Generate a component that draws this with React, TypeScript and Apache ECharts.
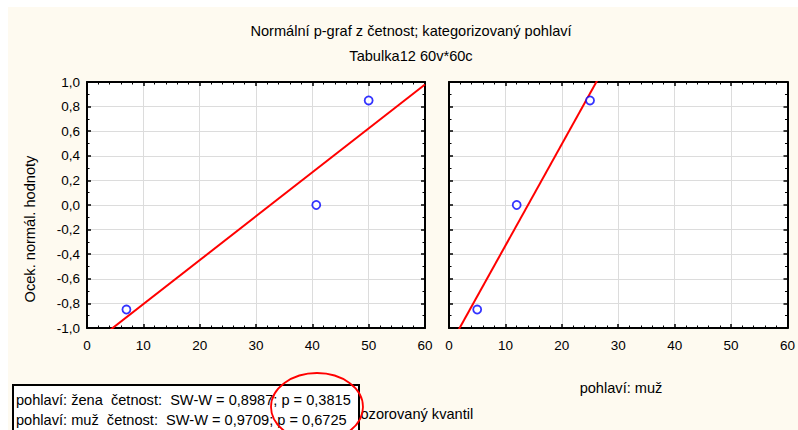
import React, { useEffect, useRef } from "react";
import * as echarts from "echarts";

const titleText = "Normální p-graf z četnost; kategorizovaný pohlaví";
const subtitleText = "Tabulka12 60v*60c";
const yAxisTitle = "Ocek. normál. hodnoty";
const xAxisTitle = "Pozorovaný kvantil";
const groupLabels = ["pohlaví: žena", "pohlaví: muž"];
const zenaObserved = [7, 40.7, 50];
const muzObserved = [5, 12, 25];
const expectedNormal = [-0.85, 0.0, 0.85];
const legendLines = [
  "pohlaví: žena  četnost:  SW-W = 0,8987; p = 0,3815",
  "pohlaví: muž  četnost:  SW-W = 0,9709; p = 0,6725",
];
const xMin = 0;
const xMax = 60;
const yMin = -1;
const yMax = 1;

function fitLine(xs: number[], ys: number[]): number[][] {
  const n = xs.length;
  const mx = xs.reduce((a, b) => a + b, 0) / n;
  const my = ys.reduce((a, b) => a + b, 0) / n;
  let sxy = 0;
  let sxx = 0;
  for (let i = 0; i < n; i++) {
    sxy += (xs[i] - mx) * (ys[i] - my);
    sxx += (xs[i] - mx) * (xs[i] - mx);
  }
  const b = sxy / sxx;
  const a = my - b * mx;
  return [
    [xMin, a + b * xMin],
    [xMax, a + b * xMax],
  ];
}

const FONT = "Liberation Sans";
const BG = "#fefaf0";
const TXT = `14.6px "${FONT}"`;

export default function App() {
  const ref = useRef<HTMLDivElement>(null);
  useEffect(() => {
    document.body.style.margin = "0";
    document.body.style.overflow = "hidden";
    if (!ref.current) return;
    const chart = echarts.init(ref.current, undefined, { renderer: "svg" });
    const grids = [
      { left: 79, top: 75, width: 338, height: 246 },
      { left: 441, top: 75, width: 339, height: 246 },
    ];
    const tickStyle = { show: true, inside: true, length: 4, lineStyle: { color: "#000", width: 1.5 } };
    const axisLine = { show: true, onZero: false, lineStyle: { color: "#000", width: 2 } };
    const splitLine = { show: true, lineStyle: { color: "#dcdcdc", width: 1 } };
    const xAxes: any[] = [];
    const yAxes: any[] = [];
    grids.forEach((g, gi) => {
      xAxes.push({
        type: "value", gridIndex: gi, position: "bottom", min: xMin, max: xMax, interval: 10,
        axisLine, axisTick: tickStyle,
        minorTick: { show: true, splitNumber: 5, length: 2.5, lineStyle: { color: "#000", width: 1 } },
        splitLine,
        axisLabel: { show: true, color: "#000", fontFamily: FONT, fontSize: 13.5, margin: 10, showMaxLabel: true },
      });
      xAxes.push({
        type: "value", gridIndex: gi, position: "top", min: xMin, max: xMax, interval: 10,
        axisLine, axisTick: tickStyle,
        minorTick: { show: true, splitNumber: 5, length: 2.5, lineStyle: { color: "#000", width: 1 } },
        splitLine: { show: false },
        axisLabel: { show: false },
      });
      yAxes.push({
        type: "value", gridIndex: gi, position: "left", min: yMin, max: yMax, interval: 0.2,
        axisLine, axisTick: tickStyle,
        minorTick: { show: true, splitNumber: 2, length: 2.5, lineStyle: { color: "#000", width: 1 } },
        splitLine,
        axisLabel: {
          show: gi === 0, color: "#000", fontFamily: FONT, fontSize: 13.5, margin: 7,
          formatter: (v: number) => v.toFixed(1).replace(".", ","),
        },
      });
      yAxes.push({
        type: "value", gridIndex: gi, position: "right", min: yMin, max: yMax, interval: 0.2,
        axisLine, axisTick: tickStyle,
        minorTick: { show: true, splitNumber: 2, length: 2.5, lineStyle: { color: "#000", width: 1 } },
        splitLine: { show: false },
        axisLabel: { show: false },
      });
    });
    const groups = [zenaObserved, muzObserved];
    const series: any[] = [];
    groups.forEach((xs, gi) => {
      series.push({
        type: "line", xAxisIndex: gi * 2, yAxisIndex: gi * 2,
        data: fitLine(xs, expectedNormal), showSymbol: false, symbol: "none", clip: true,
        lineStyle: { color: "#ff0000", width: 2 }, z: 3,
      });
      series.push({
        type: "scatter", xAxisIndex: gi * 2, yAxisIndex: gi * 2,
        data: xs.map((x, i) => [x, expectedNormal[i]]),
        symbol: "circle", symbolSize: 8,
        itemStyle: { color: "#ffffff", borderColor: "#0000ff", borderWidth: 1.8 }, z: 4,
      });
    });
    chart.setOption({
      animation: false,
      backgroundColor: BG,
      grid: grids.map((g) => ({ ...g, show: true, backgroundColor: "#ffffff", borderWidth: 0 })),
      xAxis: xAxes,
      yAxis: yAxes,
      series,
      graphic: [
        { type: "text", x: 403, y: 24, style: { text: titleText, font: TXT, fill: "#000", align: "center", verticalAlign: "middle" } },
        { type: "text", x: 403, y: 49, style: { text: subtitleText, font: TXT, fill: "#000", align: "center", verticalAlign: "middle" } },
        { type: "text", x: 22, y: 222, rotation: Math.PI / 2, style: { text: yAxisTitle, font: TXT, fill: "#000", align: "center", verticalAlign: "middle" } },
        { type: "text", x: 248, y: 383, style: { text: groupLabels[0], font: TXT, fill: "#000", align: "center", verticalAlign: "middle" } },
        { type: "text", x: 613, y: 381, style: { text: groupLabels[1], font: TXT, fill: "#000", align: "center", verticalAlign: "middle" } },
        { type: "text", x: 404, y: 407, style: { text: xAxisTitle, font: TXT, fill: "#000", align: "center", verticalAlign: "middle" } },
        { type: "rect", shape: { x: 5, y: 378, width: 346, height: 60 }, style: { fill: "#ffffff", stroke: "#000", lineWidth: 2 }, z: 10 },
        { type: "text", x: 8, y: 393, z: 11, style: { text: legendLines[0], font: TXT, fill: "#000", align: "left", verticalAlign: "middle" } },
        { type: "text", x: 8, y: 413, z: 11, style: { text: legendLines[1], font: TXT, fill: "#000", align: "left", verticalAlign: "middle" } },
        { type: "ellipse", shape: { cx: 309, cy: 400, rx: 46, ry: 34 }, style: { fill: "none", stroke: "#ff0000", lineWidth: 1.8 }, z: 12 },
      ],
    });
    return () => chart.dispose();
  }, []);
  return (
    <div style={{ position: "relative", width: 798, height: 430, background: "#ffffff", overflow: "hidden" }}>
      <div ref={ref} style={{ position: "absolute", left: 8, top: 7, width: 790, height: 423 }} />
    </div>
  );
}
